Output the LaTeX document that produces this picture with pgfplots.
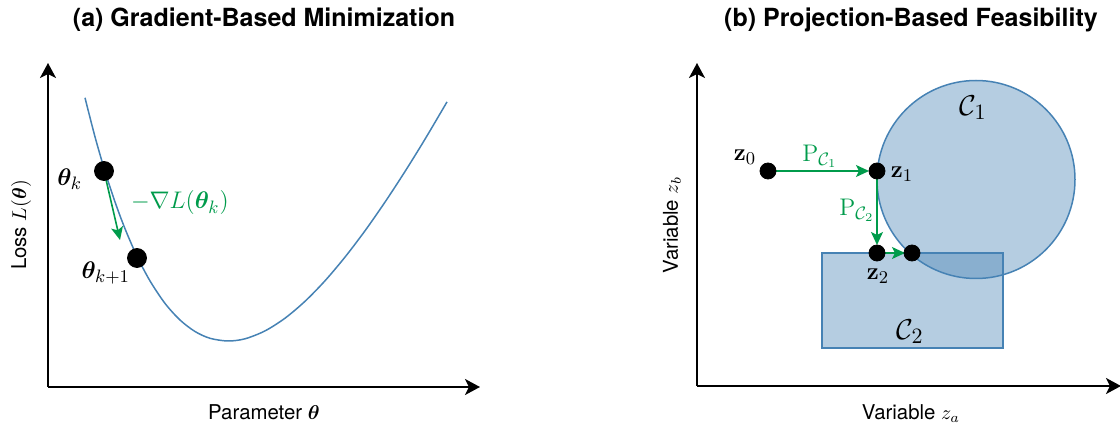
\documentclass[border=0pt]{standalone}
\usepackage[no-math]{fontspec}
\setmainfont{TeX Gyre Heros}
\usepackage{amsmath}
\usepackage{bm}
\usepackage{pgfplots}
\pgfplotsset{compat=1.18}
\usetikzlibrary{arrows.meta}
\definecolor{steel}{RGB}{70,130,180}
\definecolor{grn}{RGB}{0,155,75}
\begin{document}
\begin{tikzpicture}
\tikzset{axarrow/.style={line width=1pt,-{Stealth[length=7.5pt,width=8pt,inset=2pt]}},
  garrow/.style={grn,line width=0.8pt,-{Stealth[length=6.5pt,width=6pt,inset=1.5pt]}}}
% ---------- (a) ----------
\begin{axis}[x=0.5pt,y=0.5pt,xmin=48,xmax=480,ymin=36,ymax=360,
  anchor=south west,at={(24pt,18pt)},axis lines=left,xtick=\empty,ytick=\empty,
  axis line style={axarrow},clip=false]
\addplot[steel,line width=0.75pt,smooth] coordinates {
(85,325.2) (95,286.2) (105,251.6) (115,221.1) (125,194.3) (137,166.7) (150,142.1)
(165,119.6) (180,103.0) (195,91.5) (210,84.7) (228,82.0) (245,84.2) (265,92.1)
(285,104.8) (305,121.7) (325,142.2) (345,165.9) (365,192.2) (385,220.9) (405,251.5)
(425,283.8) (447,321.1)};
\addplot[garrow] coordinates {(104,252) (120,183)};
\addplot[only marks,mark=*,mark size=4.75pt,black] coordinates {(104,252) (137,165)};
\node[anchor=east,font=\fontsize{12.5}{14}\selectfont] at (axis cs:89,244) {$\bm{\theta}_k$};
\node[anchor=east,font=\fontsize{12.5}{14}\selectfont] at (axis cs:137,150) {$\bm{\theta}_{k+1}$};
\node[anchor=west,grn,font=\fontsize{12.5}{14}\selectfont] at (axis cs:124,220) {$-\nabla L(\bm{\theta}_k)$};
\end{axis}
% ---------- (b) ----------
\begin{axis}[x=0.5pt,y=0.5pt,xmin=697,xmax=1121,ymin=37,ymax=360,
  anchor=south west,at={(348.5pt,18.5pt)},axis lines=left,xtick=\empty,ytick=\empty,
  axis line style={axarrow},clip=false]
\draw[steel,line width=0.75pt,fill=steel,fill opacity=0.4] (axis cs:976,243.5) circle[radius=49.5pt];
\addplot[draw=steel,line width=0.75pt,fill=steel,fill opacity=0.4] coordinates {(822,170) (1003,170) (1003,75) (822,75)} --cycle;
\addplot[garrow] coordinates {(768,252) (869,252)};
\addplot[garrow] coordinates {(877,252) (877,178)};
\addplot[garrow] coordinates {(877,170) (905,170)};
\addplot[only marks,mark=*,mark size=4pt,black] coordinates {(768,252) (877,252) (877,170) (912,170)};
\node[font=\fontsize{12.5}{14}\selectfont] at (axis cs:745,266) {$\mathbf{z}_0$};
\node[grn,font=\fontsize{12.5}{14}\selectfont] at (axis cs:820,267) {$\mathrm{P}_{\mathcal{C}_1}$};
\node[font=\fontsize{12.5}{14}\selectfont] at (axis cs:902,249) {$\mathbf{z}_1$};
\node[grn,font=\fontsize{12.5}{14}\selectfont] at (axis cs:857,213) {$\mathrm{P}_{\mathcal{C}_2}$};
\node[font=\fontsize{12.5}{14}\selectfont] at (axis cs:878,147) {$\mathbf{z}_2$};
\node[font=\fontsize{15}{18}\selectfont] at (axis cs:973,315) {$\mathcal{C}_1$};
\node[font=\fontsize{15}{18}\selectfont] at (axis cs:910,91) {$\mathcal{C}_2$};
\end{axis}
% ---------- titles and labels ----------
\node[anchor=base,font=\fontsize{12.5}{15}\selectfont\bfseries] at (132pt,198.25pt) {(a) Gradient-Based Minimization};
\node[anchor=base,font=\fontsize{12.5}{15}\selectfont\bfseries] at (455.5pt,198.25pt) {(b) Projection-Based Feasibility};
\node[anchor=base,font=\fontsize{10.2}{12}\selectfont] at (132pt,1.6pt) {Parameter $\bm{\theta}$};
\node[anchor=base,font=\fontsize{10.2}{12}\selectfont] at (455.5pt,1.6pt) {Variable $z_a$};
\node[rotate=90,font=\fontsize{10.2}{12}\selectfont] at (10.5pt,99pt) {Loss $L(\bm{\theta})$};
\node[rotate=90,font=\fontsize{10.2}{12}\selectfont] at (336pt,99pt) {Variable $z_b$};
\pgfresetboundingbox
\path[use as bounding box] (0,0) rectangle (560pt,211.5pt);
\end{tikzpicture}
\end{document}
